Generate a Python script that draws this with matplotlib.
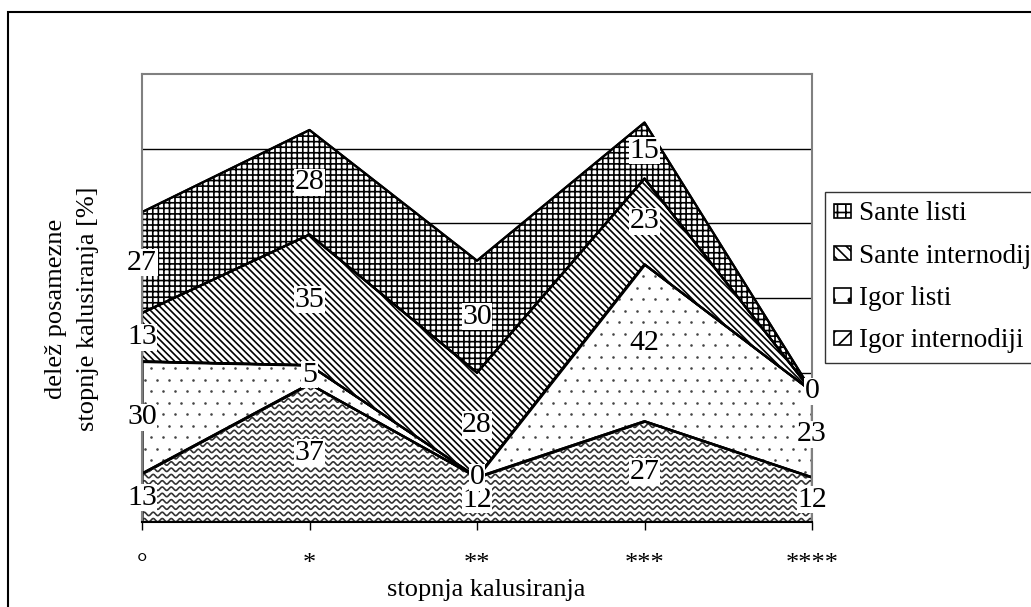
import numpy as np
import matplotlib.pyplot as plt
from matplotlib.patches import Patch, Rectangle, PathPatch

plt.rcParams["font.family"] = ["Liberation Serif", "DejaVu Serif"]
plt.rcParams["hatch.linewidth"] = 1.2

# data (bottom to top of the stack)
categories = ["°", "*", "**", "***", "****"]
igor_internodiji = [13, 37, 12, 27, 12]
igor_listi = [30, 5, 0, 42, 23]
sante_internodiji = [13, 35, 28, 23, 0]
sante_listi = [27, 28, 30, 15, 0]

series = [igor_internodiji, igor_listi, sante_internodiji, sante_listi]
names = ["Igor internodiji", "Igor listi", "Sante internodiji", "Sante listi"]

W, H = 1031, 607
fig = plt.figure(figsize=(W / 100, H / 100), dpi=100)
ax = fig.add_axes([142 / W, 1 - 522 / H, (812 - 142) / W, (522 - 74) / H])

x = np.arange(len(categories))
bottom = np.zeros(len(categories))
polys = []
for name, vals in zip(names, series):
    vals = np.array(vals, dtype=float)
    top = bottom + vals
    if name == "Sante listi":
        fb = ax.fill_between(x, bottom, top, facecolor="white", edgecolor="black",
                             hatch="+++", lw=1.6, zorder=2)
    elif name == "Sante internodiji":
        fb = ax.fill_between(x, bottom, top, facecolor="white", edgecolor="black",
                             hatch="\\\\\\\\\\", lw=1.6, zorder=2)
    else:
        fb = ax.fill_between(x, bottom, top, facecolor="white", edgecolor="black",
                             lw=1.6, zorder=2)
    polys.append((name, fb, bottom.copy(), vals))
    bottom = top

# textures that matplotlib has no hatch for: waves and sparse dots
for name, fb, bot, vals in polys:
    clip = PathPatch(fb.get_paths()[0], transform=ax.transData)
    if name == "Igor internodiji":
        xx = np.linspace(0, 1, 1200)
        for yy in np.arange(0.004, 0.5, 6.3 / 448):
            ln, = ax.plot(xx, yy + (1.7 / 448) * np.sin(2 * np.pi * xx * 670 / 9),
                          transform=ax.transAxes, color="#333333", lw=1.2, zorder=2.1)
            ln.set_clip_path(clip)
    elif name == "Igor listi":
        gx, gy = [], []
        for r, yy in enumerate(np.arange(0.01, 1, 11.5 / 448)):
            off = (r % 2) * 6 / 670
            for xv in np.arange(0.005 + off, 1, 12 / 670):
                gx.append(xv)
                gy.append(yy)
        sc = ax.scatter(gx, gy, s=3.5, color="#444444", transform=ax.transAxes,
                        zorder=2.1, linewidths=0)
        sc.set_clip_path(clip)
    # redraw outline above the texture
    ax.fill_between(x, bot, bot + vals, facecolor="none", edgecolor="black", lw=1.6, zorder=2.2)

# data labels in the middle of each band
for name, fb, bot, vals in polys:
    for i, v in enumerate(vals):
        ax.text(x[i], bot[i] + v / 2, f"{int(v)}", ha="center", va="center", fontsize=21.5,
                bbox=dict(facecolor="white", edgecolor="none", pad=0.4), zorder=5, clip_on=False)

ax.set_xlim(0, len(categories) - 1)
ax.set_ylim(0, 120)
ax.set_yticks([20, 40, 60, 80, 100])
ax.yaxis.grid(True, color="black", lw=1.0)
ax.set_axisbelow(True)
ax.tick_params(axis="y", length=0, labelleft=False)
ax.set_xticks(x)
ax.set_xticklabels(categories, fontsize=19)
ax.tick_params(axis="x", direction="out", length=6, width=1, color="black", pad=16)
for s in ["top", "right", "left"]:
    ax.spines[s].set_color("#808080")
    ax.spines[s].set_linewidth(1.5)
ax.spines["bottom"].set_color("black")
ax.spines["bottom"].set_linewidth(1.5)

fig.text(486 / W, 1 - 590 / H, "stopnja kalusiranja", ha="center", va="center", fontsize=19)
fig.text(72 / W, 1 - 309 / H, "delež posamezne\nstopnje kalusiranja [%]", ha="center",
         va="center", rotation=90, fontsize=19, linespacing=1.6)

# legend (top series first)
hatches = {"Sante listi": "++", "Sante internodiji": "\\\\\\", "Igor listi": ".", "Igor internodiji": "//"}
handles = [Patch(facecolor="white", edgecolor="black", hatch=hatches[n], lw=1.2) for n in names[::-1]]
leg = fig.legend(handles, names[::-1], loc="upper left", bbox_to_anchor=(825 / W, 1 - 192 / H),
                 bbox_transform=fig.transFigure, fontsize=19.5, frameon=True, fancybox=False,
                 edgecolor="black", handlelength=0.6, handleheight=0.45, handletextpad=0.3,
                 labelspacing=0.64, borderpad=0.35, borderaxespad=0)
leg.get_frame().set_linewidth(1.0)

# outer chart border
fig.patches.append(Rectangle((8 / W, -0.1), 2, 1.1 - 12 / H, transform=fig.transFigure,
                             fill=False, edgecolor="black", lw=1.5))

fig.savefig("out.png", dpi=100)
